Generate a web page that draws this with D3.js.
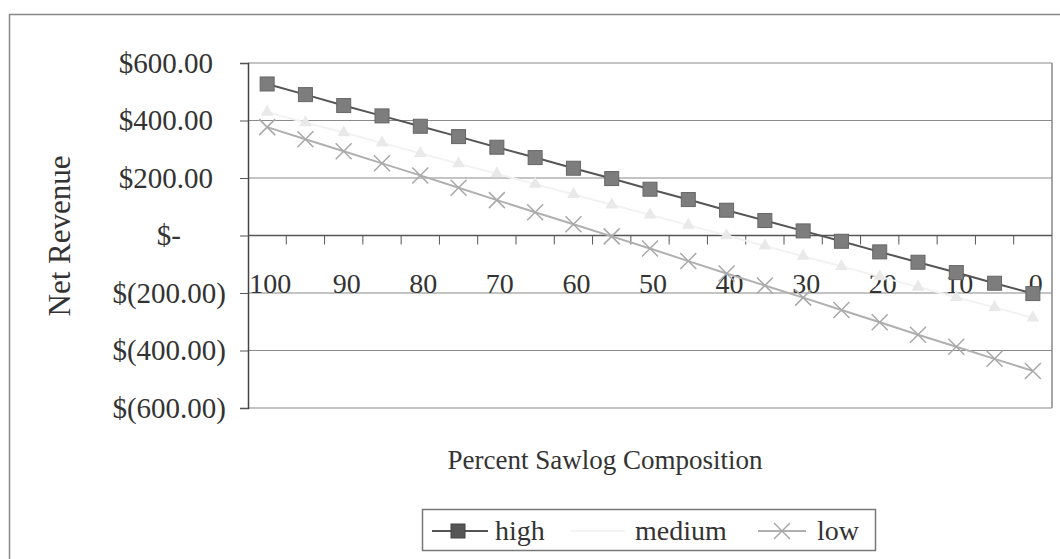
<!DOCTYPE html>
<html>
<head>
<meta charset="utf-8">
<script src="https://cdnjs.cloudflare.com/ajax/libs/d3/7.8.5/d3.min.js"></script>
<style>
  body { margin: 0; background: #fff; }
  svg text { font-family: "Liberation Serif", "Times New Roman", serif; fill: #333; }
</style>
</head>
<body>
<div id="chart"></div>
<script>
// percent sawlog composition (categories, left to right)
var categories = [100, 95, 90, 85, 80, 75, 70, 65, 60, 55, 50, 45, 40, 35, 30, 25, 20, 15, 10, 5, 0];
var tickLabels = [100, 90, 80, 70, 60, 50, 40, 30, 20, 10, 0];
var yTicks = [600, 400, 200, 0, -200, -400, -600];
// net revenue by price level
var high = [527, 490, 452, 416, 380, 344, 307, 271, 234, 198, 161, 125, 88, 52, 16, -20, -57, -93, -129, -166, -202];
var medium = [429, 393, 358, 322, 286, 250, 215, 179, 143, 107, 72, 36, 0, -36, -72, -107, -143, -179, -215, -250, -286];
var low = [377, 335, 293, 251, 209, 166, 123, 81, 39, -3, -45, -89, -132, -174, -216, -259, -302, -345, -387, -429, -471];

var W = 1060, H = 559;
var plotLeft = 248, plotRight = 1052, plotTop = 63, plotBottom = 408;

var svg = d3.select("#chart").append("svg")
    .attr("width", W)
    .attr("height", H);

// outer chart border
svg.append("rect")
    .attr("x", 9.5).attr("y", 14.5)
    .attr("width", 1080).attr("height", 600)
    .attr("fill", "none")
    .attr("stroke", "#888")
    .attr("stroke-width", 1.5);

var x = d3.scaleBand()
    .domain(categories)
    .range([plotLeft, plotRight])
    .padding(0);

var y = d3.scaleLinear()
    .domain([-600, 600])
    .range([plotBottom, plotTop]);

function cx(d, i) { return x(categories[i]) + x.bandwidth() / 2; }

// gridlines
svg.append("g")
    .selectAll("line")
    .data(yTicks)
    .join("line")
    .attr("x1", plotLeft).attr("x2", plotRight)
    .attr("y1", d => y(d)).attr("y2", d => y(d))
    .attr("stroke", "#8a8a8a")
    .attr("stroke-width", 1.2);

// right border of plot area
svg.append("line")
    .attr("x1", plotRight).attr("x2", plotRight)
    .attr("y1", plotTop).attr("y2", plotBottom)
    .attr("stroke", "#888")
    .attr("stroke-width", 1.5);

// y axis
var fmt = function(d) {
    if (d == 0) return "$-";
    var s = d3.format(",.2f")(Math.abs(d));
    return d < 0 ? "$(" + s + ")" : "$" + s;
};
var yAxis = svg.append("g")
    .attr("transform", "translate(" + plotLeft + ",0)")
    .call(d3.axisLeft(y).tickValues(yTicks).tickFormat(fmt).tickSize(8).tickPadding(27));
yAxis.select(".domain").attr("stroke", "#444").attr("stroke-width", 1.5);
yAxis.selectAll(".tick line").attr("stroke", "#555");
yAxis.selectAll("text")
    .style("font-family", "Liberation Serif")
    .attr("font-size", "29px")
    .attr("fill", "#333")
    .attr("dx", d => d < 0 ? 13 : (d == 0 ? -32 : 0));

// x axis on the zero line (ticks between categories)
var bounds = categories.slice(1).map(function(c) { return x(c); });
svg.append("line")
    .attr("x1", plotLeft).attr("x2", plotRight)
    .attr("y1", y(0)).attr("y2", y(0))
    .attr("stroke", "#555")
    .attr("stroke-width", 1.5);
svg.append("g")
    .selectAll("line")
    .data(bounds)
    .join("line")
    .attr("x1", d => d).attr("x2", d => d)
    .attr("y1", y(0)).attr("y2", y(0) + 9)
    .attr("stroke", "#555");
svg.append("g")
    .selectAll("text")
    .data(tickLabels)
    .join("text")
    .attr("x", d => x(d) + x.bandwidth() / 2 + 3)
    .attr("y", y(0) + 57)
    .attr("text-anchor", "middle")
    .attr("font-size", "28px")
    .text(d => d);

// lines
var line = function(vals) {
    return d3.line()
        .x((d, i) => cx(d, i))
        .y(d => y(d))(vals);
};

svg.append("path").attr("d", line(medium))
    .attr("fill", "none").attr("stroke", "#f2f2f2").attr("stroke-width", 2);
svg.append("g").selectAll("path")
    .data(medium)
    .join("path")
    .attr("transform", (d, i) => "translate(" + cx(d, i) + "," + y(d) + ")")
    .attr("d", d3.symbol(d3.symbolTriangle, 70)())
    .attr("fill", "#e9e9e9");

svg.append("path").attr("d", line(low))
    .attr("fill", "none").attr("stroke", "#b0b0b0").attr("stroke-width", 2);
svg.append("g").selectAll("path")
    .data(low)
    .join("path")
    .attr("transform", (d, i) => "translate(" + cx(d, i) + "," + y(d) + ")")
    .attr("d", "M-8,-8L8,8M-8,8L8,-8")
    .attr("stroke", "#a8a8a8").attr("stroke-width", 1.5);

svg.append("path").attr("d", line(high))
    .attr("fill", "none").attr("stroke", "#555").attr("stroke-width", 2);
svg.append("g").selectAll("rect")
    .data(high)
    .join("rect")
    .attr("x", (d, i) => cx(d, i) - 7)
    .attr("y", d => y(d) - 7)
    .attr("width", 14).attr("height", 14)
    .attr("fill", "#7d7d7d")
    .attr("stroke", "#666");

// axis titles
svg.append("text")
    .attr("x", 605).attr("y", 469)
    .attr("text-anchor", "middle")
    .attr("font-size", "27px")
    .text("Percent Sawlog Composition");
svg.append("text")
    .attr("transform", "translate(70,236) rotate(-90)")
    .attr("text-anchor", "middle")
    .attr("font-size", "31px")
    .text("Net Revenue");

// legend
svg.append("rect")
    .attr("x", 422.5).attr("y", 509.5)
    .attr("width", 453).attr("height", 41)
    .attr("fill", "none").attr("stroke", "#777").attr("stroke-width", 1.5);
var lg = svg.append("g");
lg.append("line").attr("x1", 432).attr("x2", 488).attr("y1", 531).attr("y2", 531)
    .attr("stroke", "#555").attr("stroke-width", 2);
lg.append("rect").attr("x", 451).attr("y", 524).attr("width", 14).attr("height", 14)
    .attr("fill", "#555").attr("stroke", "#444");
lg.append("text").attr("x", 495).attr("y", 540).attr("font-size", "28px").text("high");
lg.append("line").attr("x1", 570).attr("x2", 625).attr("y1", 531).attr("y2", 531)
    .attr("stroke", "#f4f4f4").attr("stroke-width", 2);
lg.append("text").attr("x", 635).attr("y", 540).attr("font-size", "28px").text("medium");
lg.append("line").attr("x1", 758).attr("x2", 806).attr("y1", 531).attr("y2", 531)
    .attr("stroke", "#b0b0b0").attr("stroke-width", 2);
lg.append("path").attr("transform", "translate(782,531)")
    .attr("d", "M-8,-8L8,8M-8,8L8,-8")
    .attr("stroke", "#a8a8a8").attr("stroke-width", 1.5);
lg.append("text").attr("x", 817).attr("y", 540).attr("font-size", "28px").text("low");
</script>
</body>
</html>
